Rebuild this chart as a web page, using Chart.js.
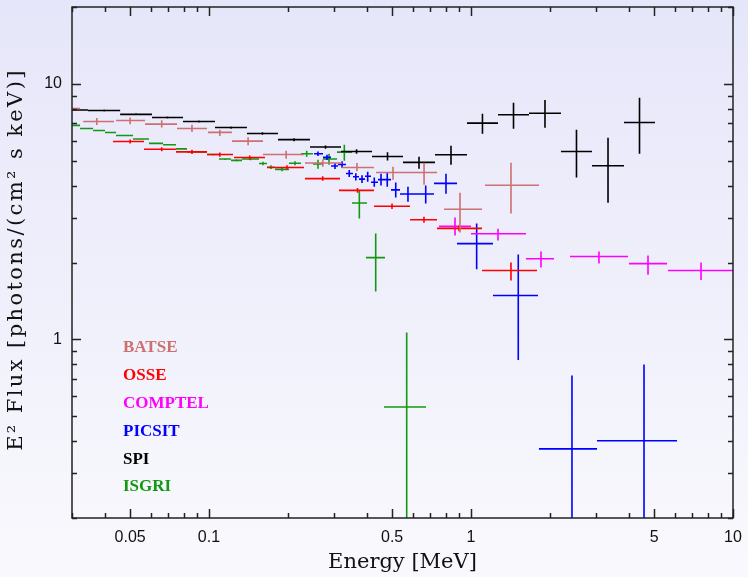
<!DOCTYPE html>
<html>
<head>
<meta charset="utf-8">
<script src="https://cdn.jsdelivr.net/npm/chart.js@4"></script>
<style>
  html, body { margin: 0; padding: 0; }
  body { width: 748px; height: 577px; background: linear-gradient(#e6e6fa, #f9f9fd); }
  canvas { display: block; }
</style>
</head>
<body>
<canvas id="chart" width="748" height="577"></canvas>
<script>
// each row: [energy, energyLo, energyHi, flux, fluxLo, fluxHi]  (MeV, E^2 flux)
const batse = [
  [0.0303, 0.0285, 0.0322, 8.01, 7.95, 8.07],
  [0.0373, 0.0331, 0.0434, 7.13, 6.91, 7.36],
  [0.0500, 0.0442, 0.0570, 7.19, 6.96, 7.39],
  [0.0660, 0.0570, 0.0755, 6.96, 6.75, 7.21],
  [0.0861, 0.0755, 0.0983, 6.69, 6.49, 6.92],
  [0.110, 0.0991, 0.1224, 6.46, 6.26, 6.61],
  [0.141, 0.1224, 0.1607, 5.97, 5.75, 6.19],
  [0.197, 0.1607, 0.2305, 5.29, 5.10, 5.48],
  [0.272, 0.2325, 0.322, 4.90, 4.74, 5.06],
  [0.367, 0.322, 0.426, 4.71, 4.55, 4.90],
  [0.504, 0.434, 0.580, 4.50, 4.22, 4.74],
  [0.662, 0.580, 0.742, 4.50, 4.03, 4.91],
  [0.908, 0.789, 1.102, 3.23, 2.62, 3.75],
  [1.421, 1.131, 1.818, 4.01, 3.11, 4.91]
];
const osse = [
  [0.0500, 0.0430, 0.0565, 5.95, 5.85, 6.06],
  [0.0660, 0.0565, 0.0748, 5.55, 5.45, 5.65],
  [0.0861, 0.0748, 0.0983, 5.42, 5.32, 5.52],
  [0.110, 0.0983, 0.1235, 5.29, 5.19, 5.39],
  [0.143, 0.1246, 0.1636, 5.15, 5.05, 5.25],
  [0.1985, 0.1665, 0.2305, 4.71, 4.62, 4.80],
  [0.2716, 0.2325, 0.3162, 4.26, 4.18, 4.35],
  [0.3688, 0.3133, 0.4264, 3.83, 3.75, 3.91],
  [0.4995, 0.4264, 0.5852, 3.32, 3.24, 3.40],
  [0.6615, 0.5852, 0.7418, 2.94, 2.86, 3.02],
  [0.900, 0.7418, 1.1016, 2.72, 2.65, 2.79],
  [1.421, 1.1016, 1.786, 1.86, 1.70, 2.00]
];
const comptel = [
  [0.869, 0.755, 1.0, 2.77, 2.55, 3.00],
  [1.268, 1.0, 1.621, 2.59, 2.44, 2.71],
  [1.850, 1.621, 2.074, 2.07, 1.91, 2.21],
  [3.079, 2.387, 3.974, 2.11, 1.98, 2.21],
  [4.738, 4.010, 5.600, 1.98, 1.79, 2.13],
  [7.55, 5.65, 10.1, 1.86, 1.71, 2.00]
];
const picsit = [
  [0.2606, 0.2517, 0.2724, 5.33, 5.22, 5.44],
  [0.2821, 0.2724, 0.2922, 5.16, 5.04, 5.28],
  [0.3027, 0.2922, 0.3106, 4.77, 4.64, 4.90],
  [0.3219, 0.3106, 0.3333, 4.84, 4.70, 4.98],
  [0.3430, 0.3333, 0.3544, 4.46, 4.32, 4.60],
  [0.3634, 0.3544, 0.3737, 4.33, 4.19, 4.47],
  [0.3837, 0.3737, 0.3940, 4.24, 4.09, 4.39],
  [0.4034, 0.3940, 0.4153, 4.35, 4.14, 4.53],
  [0.4274, 0.4153, 0.4416, 4.12, 3.96, 4.30],
  [0.4535, 0.4416, 0.4656, 4.22, 4.00, 4.45],
  [0.4790, 0.4656, 0.4951, 4.22, 3.96, 4.49],
  [0.5161, 0.4951, 0.5358, 3.85, 3.59, 4.11],
  [0.5747, 0.5358, 0.6166, 3.71, 3.46, 3.96],
  [0.6717, 0.6166, 0.7225, 3.71, 3.40, 4.00],
  [0.8027, 0.7225, 0.8844, 4.08, 3.72, 4.45],
  [1.051, 0.8844, 1.213, 2.37, 1.88, 2.84],
  [1.515, 1.213, 1.802, 1.486, 0.830, 2.15],
  [2.429, 1.817, 3.027, 0.373, 0.1, 0.723],
  [4.575, 3.027, 6.113, 0.401, 0.1, 0.798]
];
const spi = [
  [0.0301, 0.0263, 0.0345, 7.91, 7.85, 7.97],
  [0.0398, 0.0345, 0.0458, 7.87, 7.80, 7.94],
  [0.0527, 0.0458, 0.0606, 7.60, 7.54, 7.67],
  [0.0694, 0.0606, 0.0796, 7.39, 7.32, 7.45],
  [0.0916, 0.0796, 0.1054, 7.13, 7.06, 7.19],
  [0.1213, 0.1054, 0.1396, 6.75, 6.68, 6.82],
  [0.1600, 0.1396, 0.1834, 6.40, 6.32, 6.47],
  [0.2111, 0.1834, 0.2429, 6.05, 5.97, 6.13],
  [0.2784, 0.2429, 0.3191, 5.66, 5.58, 5.74],
  [0.3657, 0.3191, 0.4190, 5.44, 5.33, 5.55],
  [0.4801, 0.4190, 0.5501, 5.20, 5.01, 5.40],
  [0.6332, 0.5501, 0.7288, 4.93, 4.66, 5.19],
  [0.8388, 0.7288, 0.9654, 5.28, 4.83, 5.73],
  [1.106, 0.9654, 1.268, 7.02, 6.38, 7.64],
  [1.453, 1.268, 1.665, 7.57, 6.67, 8.43],
  [1.916, 1.665, 2.205, 7.68, 6.73, 8.66],
  [2.527, 2.205, 2.896, 5.44, 4.30, 6.61],
  [3.334, 2.896, 3.837, 4.78, 3.43, 6.15],
  [4.397, 3.837, 5.039, 7.06, 5.33, 8.82]
];
const isgri = [
  [0.0303, 0.0285, 0.0322, 6.88, 6.84, 6.92],
  [0.0341, 0.0322, 0.0361, 6.69, 6.65, 6.73],
  [0.0380, 0.0361, 0.0401, 6.57, 6.53, 6.61],
  [0.0421, 0.0401, 0.0442, 6.45, 6.41, 6.49],
  [0.0476, 0.0442, 0.0513, 6.28, 6.24, 6.32],
  [0.0550, 0.0513, 0.0590, 6.09, 6.05, 6.13],
  [0.0628, 0.0590, 0.0668, 5.85, 5.81, 5.89],
  [0.0707, 0.0668, 0.0748, 5.78, 5.74, 5.82],
  [0.0785, 0.0748, 0.0824, 5.57, 5.53, 5.61],
  [0.0900, 0.0824, 0.0983, 5.42, 5.38, 5.46],
  [0.1036, 0.0983, 0.1092, 5.29, 5.25, 5.33],
  [0.1151, 0.1092, 0.1213, 5.08, 5.04, 5.12],
  [0.1274, 0.1213, 0.1337, 5.02, 4.97, 5.07],
  [0.1440, 0.1337, 0.1552, 5.08, 5.03, 5.13],
  [0.1607, 0.1552, 0.1665, 4.88, 4.80, 4.96],
  [0.1724, 0.1665, 0.1786, 4.72, 4.64, 4.80],
  [0.1900, 0.1786, 0.2020, 4.63, 4.55, 4.71],
  [0.2130, 0.2020, 0.2245, 4.89, 4.80, 4.98],
  [0.2360, 0.2245, 0.2494, 5.33, 5.19, 5.47],
  [0.2606, 0.2494, 0.2724, 4.86, 4.66, 5.05],
  [0.2871, 0.2724, 0.3079, 5.08, 4.83, 5.33],
  [0.3285, 0.3079, 0.3514, 5.41, 5.00, 5.78],
  [0.3748, 0.3514, 0.4009, 3.42, 2.97, 3.82],
  [0.4328, 0.3973, 0.4695, 2.09, 1.54, 2.60],
  [0.5683, 0.4656, 0.6733, 0.544, 0.1, 1.065]
];

const instruments = ['BATSE', 'OSSE', 'COMPTEL', 'PICSIT', 'SPI', 'ISGRI'];
const instrumentData = [batse, osse, comptel, picsit, spi, isgri];
const colors = ['rgb(204,112,112)', '#ff0000', '#ff00ff', '#0000ff', '#000000', '#119911'];

const xMin = 0.03, xMax = 10;
const yMin = 0.2, yMax = 20;
const xTickValues = [0.03, 0.04, 0.05, 0.06, 0.07, 0.08, 0.09,
  0.1, 0.2, 0.3, 0.4, 0.5, 0.6, 0.7, 0.8, 0.9,
  1, 2, 3, 4, 5, 6, 7, 8, 9, 10];
const xLabeled = [0.05, 0.1, 0.5, 1, 5, 10];
const yTickValues = [0.2, 0.3, 0.4, 0.5, 0.6, 0.7, 0.8, 0.9,
  1, 2, 3, 4, 5, 6, 7, 8, 9, 10, 20];
const yLabeled = [1, 10];

// turn the rows into crosses: horizontal bin bar + vertical error bar, split by gaps
function crosses(rows) {
  let pts = [];
  rows.forEach(r => {
    pts.push({x: r[1], y: r[3]}, {x: r[2], y: r[3]}, {x: r[0], y: null});
    pts.push({x: r[0], y: r[4]}, {x: r[0], y: r[5]}, {x: r[0], y: null});
  });
  return pts;
}

const datasets = instrumentData.map((rows, i) => ({
  label: instruments[i],
  data: crosses(rows),
  showLine: true,
  spanGaps: false,
  borderColor: colors[i],
  borderWidth: 1.6,
  pointRadius: 0,
  pointHoverRadius: 0
}));

// clip the crosses to the axis box, then draw frame, inward ticks, y title and legend
const frameTicks = {
  id: 'frameTicks',
  beforeDatasetsDraw(chart) {
    const xs = chart.scales.x, ys = chart.scales.y;
    const L = xs.getPixelForValue(xMin), R = xs.getPixelForValue(xMax);
    const T = ys.getPixelForValue(yMax), B = ys.getPixelForValue(yMin);
    chart.ctx.save();
    chart.ctx.beginPath();
    chart.ctx.rect(L, T, R - L, B - T);
    chart.ctx.clip();
  },
  afterDatasetsDraw(chart) {
    const ctx = chart.ctx;
    ctx.restore();
    const xs = chart.scales.x, ys = chart.scales.y;
    const L = xs.getPixelForValue(xMin), R = xs.getPixelForValue(xMax);
    const T = ys.getPixelForValue(yMax), B = ys.getPixelForValue(yMin);
    ctx.save();
    ctx.strokeStyle = '#222';
    ctx.lineWidth = 1.5;
    ctx.strokeRect(L, T, R - L, B - T);
    ctx.beginPath();
    xTickValues.forEach(v => {
      const px = Math.round(xs.getPixelForValue(v)) + 0.5;
      const len = xLabeled.includes(v) ? 9 : 5;
      ctx.moveTo(px, B); ctx.lineTo(px, B - len);
      ctx.moveTo(px, T); ctx.lineTo(px, T + len);
    });
    yTickValues.forEach(v => {
      const py = Math.round(ys.getPixelForValue(v)) + 0.5;
      const len = yLabeled.includes(v) ? 9 : 5;
      ctx.moveTo(L, py); ctx.lineTo(L + len, py);
      ctx.moveTo(R, py); ctx.lineTo(R - len, py);
    });
    ctx.stroke();

    // y axis title
    ctx.fillStyle = '#111';
    ctx.font = '21px "DejaVu Serif"';
    ctx.textAlign = 'center';
    ctx.textBaseline = 'middle';
    ctx.letterSpacing = '2.4px';
    ctx.translate(17, (T + B) / 2 - 3);
    ctx.rotate(-Math.PI / 2);
    ctx.fillText('E² Flux [photons/(cm² s keV)]', 0, 0);
    ctx.restore();

    // legend text inside the plot
    ctx.save();
    ctx.font = 'bold 17px "Liberation Serif"';
    ctx.textBaseline = 'middle';
    instruments.forEach((name, i) => {
      ctx.fillStyle = colors[i];
      ctx.fillText(name, L + 51, T + 341 + i * 27.8);
    });
    ctx.restore();
  }
};

new Chart(document.getElementById('chart').getContext('2d'), {
  type: 'scatter',
  data: { datasets: datasets },
  options: {
    responsive: false,
    animation: false,
    devicePixelRatio: 1,
    layout: { padding: { left: 0, right: 15, top: 7, bottom: 0 } },
    plugins: { legend: { display: false }, tooltip: { enabled: false } },
    scales: {
      x: {
        type: 'logarithmic',
        min: xMin,
        max: xMax,
        afterFit(s) { s.height = 59; s.paddingLeft = 0; s.paddingRight = 0; },
        afterBuildTicks(s) { s.ticks = xTickValues.map(v => ({ value: v })); },
        grid: { display: false },
        border: { display: false },
        ticks: {
          autoSkip: false, maxRotation: 0, padding: 2, color: '#111',
          font: { family: 'Liberation Sans', size: 16 },
          callback: v => xLabeled.includes(v) ? String(v) : ''
        },
        title: {
          display: true, text: 'Energy [MeV]', color: '#111',
          font: { family: 'DejaVu Serif', size: 21 },
          padding: { top: 0, bottom: 2 }
        }
      },
      y: {
        type: 'logarithmic',
        min: yMin,
        max: yMax,
        afterFit(s) { s.width = 72; s.paddingTop = 0; s.paddingBottom = 0; },
        afterBuildTicks(s) { s.ticks = yTickValues.map(v => ({ value: v })); },
        grid: { display: false },
        border: { display: false },
        ticks: {
          autoSkip: false, padding: 2, color: '#111',
          font: { family: 'Liberation Sans', size: 16 },
          callback: v => yLabeled.includes(v) ? String(v) : ''
        },
        title: { display: false }
      }
    }
  },
  plugins: [frameTicks]
});
</script>
</body>
</html>
